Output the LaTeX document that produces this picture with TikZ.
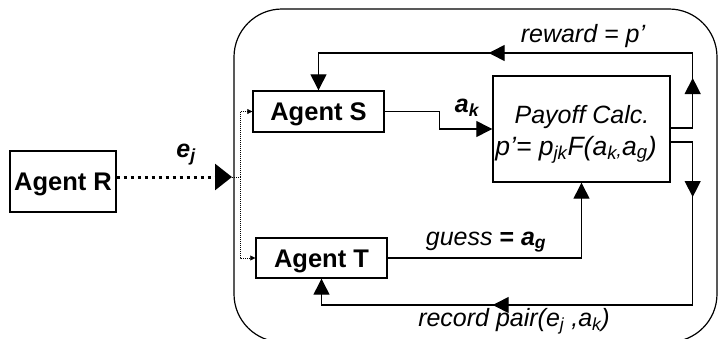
\documentclass[tikz,border=0pt]{standalone}
\usepackage{fontspec}
\setmainfont{Liberation Sans}
\usetikzlibrary{arrows.meta,decorations.markings}
\begin{document}
\begin{tikzpicture}[x=1pt,y=-1pt,
  box/.style={draw,line width=1.4pt,inner sep=0pt,font=\bfseries\fontsize{25.5}{30}\selectfont,text height=18.3pt,text depth=0pt},
  conn/.style={line width=1.3pt},
  bigtip/.style={-{Triangle[length=16pt,width=16pt]}},
  tipat/.style={postaction={decorate,decoration={markings,mark=at position #1 with {\arrow{Triangle[length=16pt,width=16pt]}}}}},
  lbl/.style={font=\itshape\fontsize{25}{30}\selectfont,anchor=base,inner sep=0pt},
  thindot/.style={line width=0.6pt,dash pattern=on 1pt off 1pt},
  smalltip/.style={-{Triangle[length=5pt,width=5pt]}}]
\useasboundingbox (0,0) rectangle (718,338);
\clip (0,0) rectangle (718,338);
% environment
\draw[line width=1.2pt,rounded corners=48pt] (234,9) rectangle (717,342);
% nodes
\node[box,minimum width=106pt,minimum height=61pt] (R) at (63,181.5) {Agent R};
\node[box,minimum width=131pt,minimum height=41pt] (S) at (318.5,111.5) {Agent S};
\node[box,minimum width=131pt,minimum height=40pt] (T) at (321.5,258) {Agent T};
\node[draw,line width=1.4pt,minimum width=177pt,minimum height=106pt,inner sep=0pt] (P) at (581.5,129) {};
\node[lbl] (p1) at (582,123) {Payoff Calc.};
\node[lbl,font=\itshape\fontsize{26.5}{30}\selectfont] (p2) at (576,155) {p’= p\textsubscript{jk}F(a\textsubscript{k\raisebox{3pt}{,}}a\textsubscript{g})};
% coordinates
\coordinate (in) at (232,177);
\coordinate (split) at (240,177);
% Agent R -> environment
\draw[line width=3pt,dash pattern=on 3.5pt off 3.5pt,-{Triangle[length=17pt,width=26pt]}] (R.east |- in) -- (in);
\node[lbl,font=\bfseries\itshape\fontsize{25}{30}\selectfont] (ej) at (186,157) {e\textsubscript{j}};
% distribution
\draw[thindot] (in) -- (split);
\draw[thindot,smalltip] (split) |- (S.west);
\draw[thindot,smalltip] (split) |- (T.west);
% S -> P
\draw[conn,bigtip] (S.east) -- ++(55,0) |- (P.west);
\node[lbl,font=\bfseries\itshape\fontsize{25}{30}\selectfont] (ak) at (467,112) {a\textsubscript{k}};
% reward loop
\draw[conn,bigtip,tipat=72pt,tipat=301pt] ([yshift=1pt]P.east) -- ++(22,0) -- ++(0,-75) -| (S.north);
\node[lbl] (rw) at (583,42) {reward = p’};
% record loop
\draw[conn,bigtip,tipat=77pt,tipat=385pt] ([yshift=-13pt]P.east) -- ++(22,0) -- ++(0,163) -| (T.south);
\node[lbl] (rec) at (514,326) {record pair(e\textsubscript{j} ,a\textsubscript{k})};
% guess
\draw[conn,bigtip] (T.east) -| (P.south);
\node[lbl] (gs) at (486,245) {guess \textbf{\upshape=} \textbf{a\textsubscript{g}}};
\end{tikzpicture}
\end{document}
